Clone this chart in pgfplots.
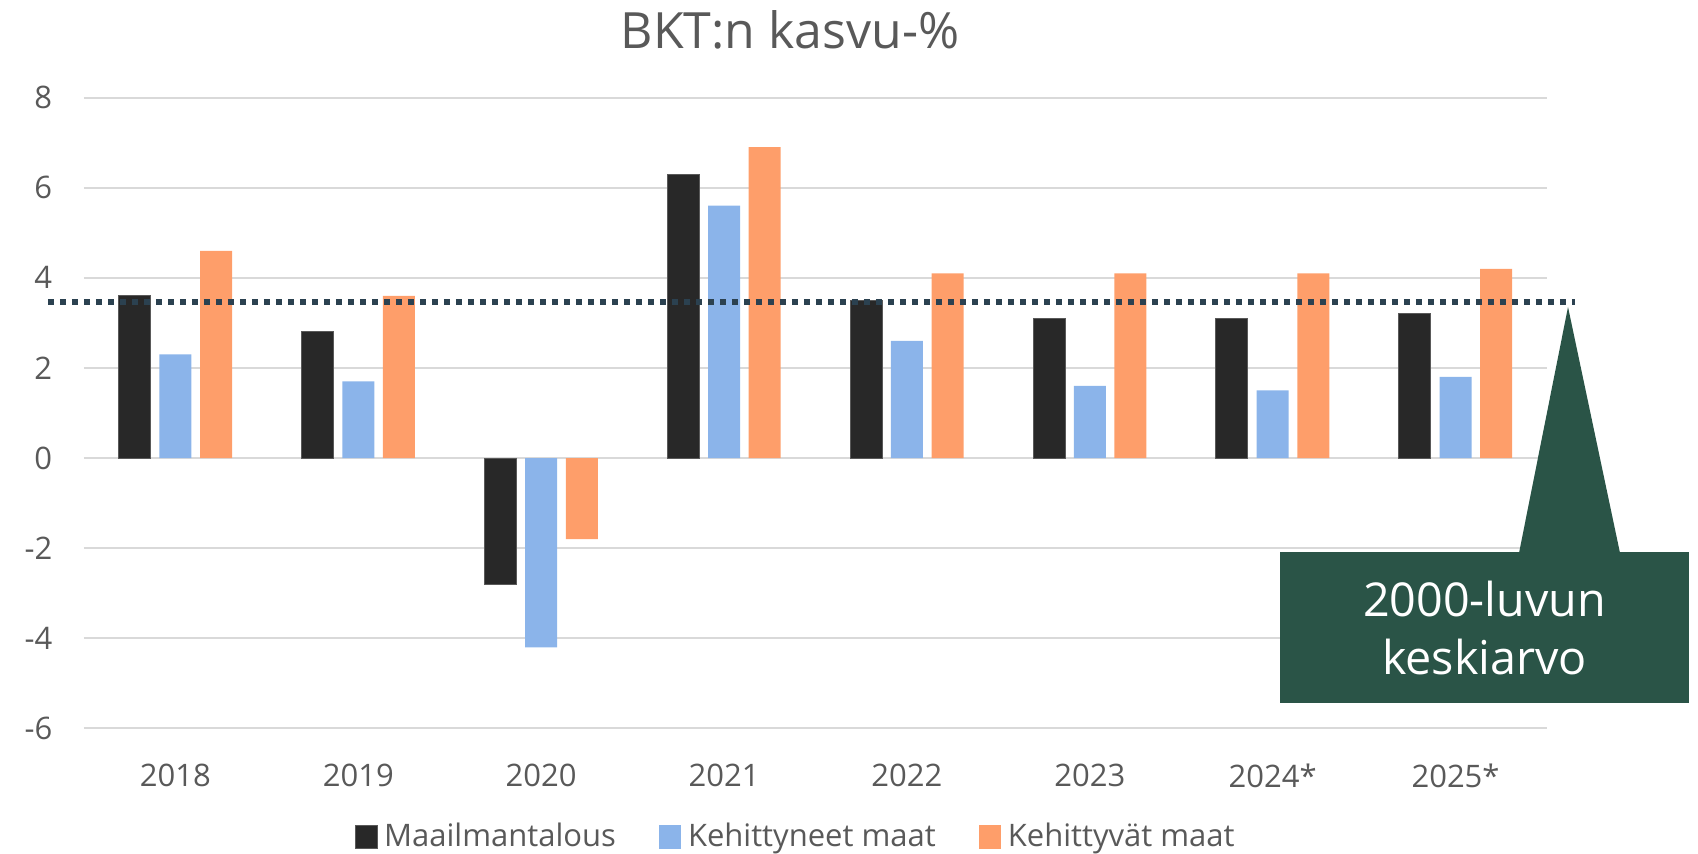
\documentclass[border=0pt]{standalone}
\usepackage{pgfplots}
\pgfplotsset{compat=1.18}
\usepackage{fontspec}
\setmainfont{Open Sans}
\definecolor{cBlack}{HTML}{282828}
\definecolor{cBlue}{HTML}{8BB4EA}
\definecolor{cOrange}{HTML}{FE9E6A}
\definecolor{cGrid}{HTML}{D9D9D9}
\definecolor{cText}{HTML}{595959}
\definecolor{cDot}{HTML}{2B4150}
\definecolor{cGreen}{HTML}{2A5447}
\begin{document}
\begin{tikzpicture}
\useasboundingbox (0,0) rectangle (509.4pt,-256.2pt);
\begin{axis}[
  at={(25.2pt,-218.55pt)}, anchor=south west,
  scale only axis, width=438.9pt, height=189.3pt,
  xmin=-0.5, xmax=7.5, ymin=-6, ymax=8,
  ytick={-6,-4,...,8},
  xtick={0,...,7},
  xticklabels={2018,2019,2020,2021,2022,2023,2024*,2025*},
  axis line style={draw=none},
  major tick length=0pt,
  ymajorgrids, grid style={color=cGrid, line width=0.6pt},
  tick label style={font=\fontsize{9.3}{11}\selectfont, text=cText},
  /pgf/number format/assume math mode=true,
  yticklabel style={xshift=-6pt},
  xticklabel style={yshift=-7pt},
  clip=false,
  ybar, bar width=0.175,
  legend style={at={(0.488,-0.172)}, anchor=center, draw=none, fill=none,
    font=\fontsize{9.3}{11}\selectfont, text=cText, legend columns=3,
    /tikz/every even column/.append style={column sep=11pt}},
  legend image code/.code={\fill[#1] (0pt,-3.5pt) rectangle (6.6pt,3.5pt);},
]
\addplot[fill=cBlack, draw=cText, line width=0.3pt, bar shift=-0.2225] coordinates {
 (0,3.6) (1,2.8) (2,-2.8) (3,6.3) (4,3.5) (5,3.1) (6,3.1) (7,3.2)};
\addplot[fill=cBlue, draw=none, bar shift=0] coordinates {
 (0,2.3) (1,1.7) (2,-4.2) (3,5.6) (4,2.6) (5,1.6) (6,1.5) (7,1.8)};
\addplot[fill=cOrange, draw=none, bar shift=0.2225] coordinates {
 (0,4.6) (1,3.6) (2,-1.8) (3,6.9) (4,4.1) (5,4.1) (6,4.1) (7,4.2)};
\legend{Maailmantalous, Kehittyneet maat, Kehittyvät maat}
\draw[cDot, line width=1.7pt, dash pattern=on 1.9pt off 1.7pt] (axis cs:-0.697,3.47) -- (axis cs:7.653,3.47);
\end{axis}
\begin{scope}[x=0.3pt, y=-0.3pt]
\fill[cGreen] (1280,552) rectangle (1689,703);
\fill[cGreen] (1519,553) -- (1568,307) -- (1620,553) -- cycle;
\node[text=white, font=\fontsize{14}{17.4}\selectfont, align=center] at (1484.5,628) {2000-luvun\\keskiarvo};
\node[text=cText, font=\fontsize{15}{17}\selectfont] at (790,30) {BKT:n kasvu-\%};
\end{scope}
\end{tikzpicture}
\end{document}
